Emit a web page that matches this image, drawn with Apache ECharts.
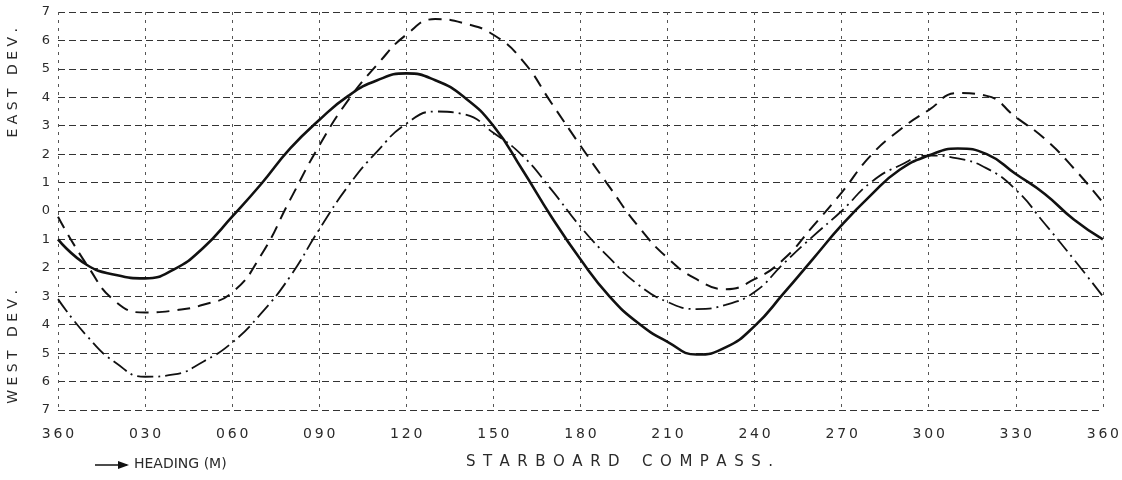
<!DOCTYPE html>
<html>
<head>
<meta charset="utf-8">
<script src="https://cdn.jsdelivr.net/npm/echarts@6/dist/echarts.min.js"></script>
<style>
html,body{margin:0;padding:0;background:#fff;}
#chart{width:1122px;height:480px;}
</style>
</head>
<body>
<div id="chart"></div>
<script>
// Heading (degrees, magnetic) — 0 and 360 are the same heading
var headings = [0,10,20,30,40,50,60,70,80,90,100,110,120,130,140,150,160,170,180,190,200,210,220,230,240,250,260,270,280,290,300,310,320,330,340,350,360];
// Deviation in degrees: East positive, West negative
var solidCurve = [-1.0,-1.9,-2.25,-2.37,-2.05,-1.3,-0.2,0.95,2.2,3.2,4.05,4.6,4.84,4.6,4.0,3.0,1.45,-0.2,-1.7,-3.0,-3.95,-4.6,-5.05,-4.8,-4.05,-2.9,-1.7,-0.5,0.55,1.45,1.95,2.2,2.0,1.3,0.6,-0.3,-1.0];
var dashedCurve = [-0.2,-1.9,-3.2,-3.57,-3.5,-3.3,-2.87,-1.55,0.4,2.3,3.9,5.15,6.2,6.75,6.6,6.2,5.3,3.8,2.3,0.85,-0.55,-1.65,-2.4,-2.75,-2.4,-1.7,-0.55,0.65,1.95,2.85,3.55,4.15,4.05,3.3,2.54,1.5,0.3];
var dashDotCurve = [-3.1,-4.4,-5.35,-5.83,-5.75,-5.3,-4.63,-3.6,-2.3,-0.65,0.88,2.1,3.07,3.5,3.4,2.75,1.95,0.75,-0.55,-1.65,-2.6,-3.2,-3.45,-3.3,-2.85,-1.85,-0.9,0.0,1.0,1.6,1.95,1.85,1.5,0.75,-0.45,-1.7,-3.0];
var xTickLabels = ['360','030','060','090','120','150','180','210','240','270','300','330','360'];

function spaced(s, sep){ return s.split('').join(sep); }
function pairs(ys){ return headings.map(function(h,i){ return [h, ys[i]]; }); }

var ink = '#111';
var textInk = '#2a2a2a';
var font = 'DejaVu Sans';

var chart = echarts.init(document.getElementById('chart'), null, {renderer:'canvas'});
chart.setOption({
  backgroundColor:'#fff',
  animation:false,
  grid:{left:58, right:17, top:12, bottom:70},
  xAxis:{
    type:'value', min:0, max:360, interval:30,
    axisLine:{show:false}, axisTick:{show:false},
    axisLabel:{
      margin:17, color:textInk, fontFamily:font, fontSize:14,
      formatter:function(v){ return spaced(xTickLabels[Math.round(v/30)], '\u2009'); }
    },
    splitLine:{show:true, lineStyle:{color:'#555', width:1, type:[3,5]}},
    name:'STARBOARD'.split('').join('\u2002') + '\u2003\u2002' + 'COMPASS.'.split('').join('\u2002'),
    nameLocation:'middle', nameGap:45,
    nameTextStyle:{color:textInk, fontFamily:font, fontSize:15, padding:[0,0,0,78]}
  },
  yAxis:{
    type:'value', min:-7, max:7, interval:1,
    axisLine:{show:false}, axisTick:{show:false},
    axisLabel:{
      margin:8, color:textInk, fontFamily:font, fontSize:13,
      formatter:function(v){ return String(Math.abs(v)); }
    },
    splitLine:{show:true, lineStyle:{color:'#333', width:1, type:[7,4]}}
  },
  graphic:[
    {type:'text', left:6, top:28, rotation:Math.PI/2,
     style:{text:'E A S T   D E V .', fill:textInk, font:'14px "DejaVu Sans"'}},
    {type:'text', left:6, top:290, rotation:Math.PI/2,
     style:{text:'W E S T   D E V .', fill:textInk, font:'14px "DejaVu Sans"'}},
    {type:'polyline', shape:{points:[[95,465],[127,465]]}, style:{stroke:ink, lineWidth:1.5}},
    {type:'polygon', shape:{points:[[129,465],[118,461],[118,469]]}, style:{fill:ink}},
    {type:'text', left:134, top:457,
     style:{text:'HEADING (M)', fill:textInk, font:'14px "DejaVu Sans"'}}
  ],
  series:[
    {name:'solid', type:'line', data:pairs(solidCurve), smooth:0.5, showSymbol:false,
     lineStyle:{color:ink, width:2.6, type:'solid'}},
    {name:'dashed', type:'line', data:pairs(dashedCurve), smooth:0.5, showSymbol:false,
     lineStyle:{color:ink, width:2, type:[13,8]}},
    {name:'dashdot', type:'line', data:pairs(dashDotCurve), smooth:0.5, showSymbol:false,
     lineStyle:{color:ink, width:1.8, type:[16,5,2,5]}}
  ]
});
</script>
</body>
</html>
